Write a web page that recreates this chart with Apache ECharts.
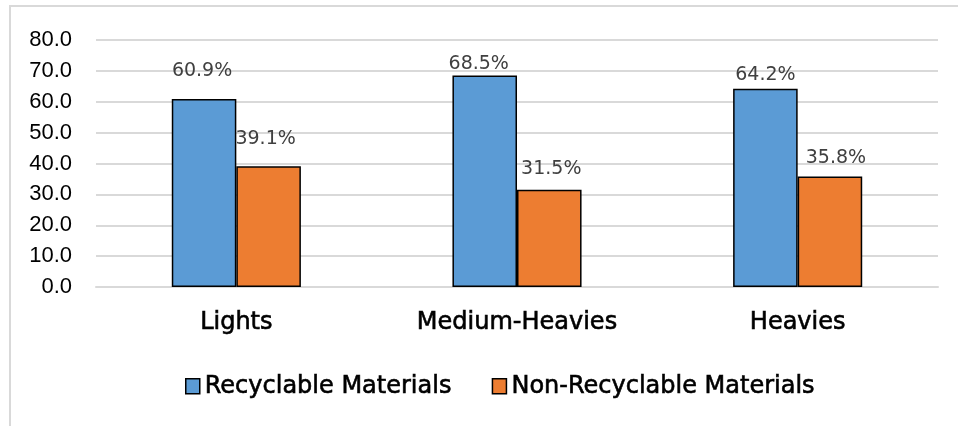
<!DOCTYPE html>
<html>
<head>
<meta charset="utf-8">
<script src="https://cdn.jsdelivr.net/npm/echarts@6/dist/echarts.min.js"></script>
<style>
  html, body { margin: 0; padding: 0; background: #fff; }
  #chart { width: 958px; height: 426px; }
</style>
</head>
<body>
<div id="chart"></div>
<script>
// Vehicle class groups
const categories = ['Lights', 'Medium-Heavies', 'Heavies'];
// Share of material by weight, percent
const recyclable = [60.9, 68.5, 64.2];
const nonRecyclable = [39.1, 31.5, 35.8];
const seriesNames = ['Recyclable Materials', 'Non-Recyclable Materials'];

// Hand-placed label nudges [dx, dy] per bar, so labels clear each other
const recyclableLabelNudge = [[-2, -16], [-6, 0], [0, -2]];
const nonRecyclableLabelNudge = [[-3, -16], [2, -9], [6, -7]];

const chart = echarts.init(document.getElementById('chart'));

const labelStyle = {
  show: true,
  position: 'top',
  distance: 2,
  color: '#404040',
  fontFamily: 'DejaVu Sans, sans-serif',
  fontSize: 19,
  formatter: p => p.value.toFixed(1) + '%'
};

const withNudge = (values, nudges) =>
  values.map((v, i) => ({ value: v, label: { offset: nudges[i] } }));

const heavyText = {
  color: '#000',
  fontFamily: 'DejaVu Sans, sans-serif',
  fontSize: 24,
  textBorderColor: '#000',
  textBorderWidth: 0.6
};

chart.setOption({
  animation: false,
  backgroundColor: '#fff',
  graphic: [{
    type: 'rect',
    shape: { x: 10, y: 6, width: 1000, height: 500 },
    style: { fill: 'none', stroke: '#d9d9d9', lineWidth: 2 },
    silent: true,
    z: -1
  }],
  grid: { left: 96, right: 20, top: 40, bottom: 139 },
  legend: {
    left: 180,
    top: 369,
    itemWidth: 14,
    itemHeight: 15,
    itemGap: 40,
    icon: 'rect',
    itemStyle: { borderColor: '#000', borderWidth: 1.5 },
    textStyle: Object.assign({ padding: [0, 0, 0, 0] }, heavyText),
    data: seriesNames
  },
  xAxis: {
    type: 'category',
    data: categories,
    axisLine: { show: true, lineStyle: { color: '#d9d9d9', width: 2 } },
    axisTick: { show: false },
    axisLabel: Object.assign({ margin: 24 }, heavyText)
  },
  yAxis: {
    type: 'value',
    min: 0,
    max: 80,
    interval: 10,
    axisLine: { show: false },
    axisTick: { show: false },
    axisLabel: {
      color: '#000',
      margin: 24,
      fontFamily: 'Liberation Sans, Arial, sans-serif',
      fontSize: 22,
      formatter: v => v.toFixed(1)
    },
    splitLine: { lineStyle: { color: '#d9d9d9', width: 2 } }
  },
  series: [
    {
      name: seriesNames[0],
      type: 'bar',
      data: withNudge(recyclable, recyclableLabelNudge),
      barGap: '0%',
      barCategoryGap: '54%',
      itemStyle: { color: '#5B9BD5', borderColor: '#000', borderWidth: 1.5 },
      label: labelStyle
    },
    {
      name: seriesNames[1],
      type: 'bar',
      data: withNudge(nonRecyclable, nonRecyclableLabelNudge),
      barGap: '0%',
      barCategoryGap: '54%',
      itemStyle: { color: '#ED7D31', borderColor: '#000', borderWidth: 1.5 },
      label: labelStyle
    }
  ]
});
</script>
</body>
</html>
